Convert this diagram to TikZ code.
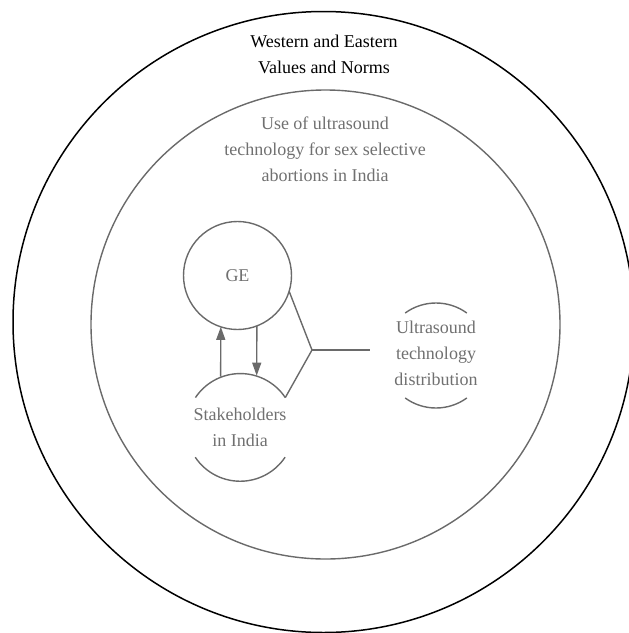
\documentclass[tikz,border=0pt]{standalone}
\usepackage{fontspec}
\setmainfont{Liberation Serif}
\usetikzlibrary{arrows.meta}
\definecolor{gline}{HTML}{6A6A6A}
\definecolor{gtext}{HTML}{707070}
\begin{document}
\begin{tikzpicture}[x=1pt,y=1pt,
  gl/.style={draw=gline, line width=1.4pt},
  txt/.style={text=gtext, align=center, inner sep=0pt, font=\fontsize{18}{26}\selectfont},
  ring/.style={circle, inner sep=0pt, outer sep=0pt, minimum size=#1},
  arr/.style={gl, -{Triangle[length=13pt,width=9pt]}}]
\useasboundingbox (0,0) rectangle (629,-633);
\clip (0,0) rectangle (629,-633);
\node[ring=621, draw=black, line width=1.5pt] (outer) at (323.5,-322) {};
\node[ring=469, gl] (inner) at (325.5,-324.5) {};
\node[txt, text=black] (tw) at (324,-54) {Western and Eastern\\Values and Norms};
\node[txt] (tu) at (325,-149) {Use of ultrasound\\technology for sex selective\\abortions in India};
\node[ring=108, gl] (ge) at (237.5,-275.5) {};
\node[txt] (get) at (ge) {GE};
\node[ring=108] (st) at (240,-427) {};
\node[txt] (stt) at (st) {Stakeholders\\in India};
\draw[gl] (st.33.7) arc[start angle=33.7, end angle=146.3, radius=54];
\draw[gl] (st.-146.3) arc[start angle=-146.3, end angle=-33.7, radius=54];
\node[ring=105] (us) at (436,-355.5) {};
\node[txt] (ust) at (436,-353) {Ultrasound\\technology\\distribution};
\draw[gl] (us.54) arc[start angle=54, end angle=126, radius=52.5];
\draw[gl] (us.-126) arc[start angle=-126, end angle=-54, radius=52.5];
\coordinate (j) at (312,-350);
\coordinate (ue) at (370,-350);
\draw[gl] (ge.-17.4) -- (j) -- (st.33.7);
\draw[gl] (j) -- (ue);
\draw[arr] (st.111.7) -- (ge.-108.9);
\draw[arr] (ge.-69.9) -- (st.72.8);
\end{tikzpicture}
\end{document}
